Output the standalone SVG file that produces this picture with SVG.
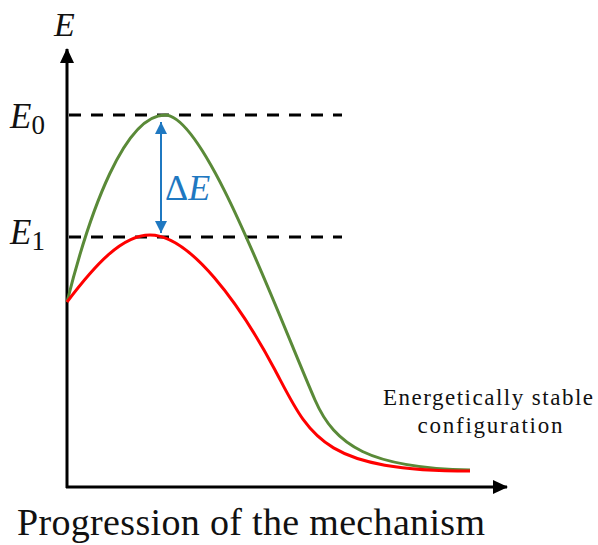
<svg xmlns="http://www.w3.org/2000/svg" width="598" height="545" viewBox="0 0 598 545">
<style>
.axis{stroke:#000;stroke-width:3;fill:none}
.dash{stroke:#000;stroke-width:3;stroke-dasharray:12 10;fill:none}
.green{stroke:#5a8a38;stroke-width:3;fill:none}
.red{stroke:#ff0000;stroke-width:3;fill:none}
.blue{stroke:#1f78c1;stroke-width:2;fill:none}
.math{font-family:"Liberation Serif","DejaVu Serif",serif;font-style:italic}
.lbl{font-family:"Liberation Serif","DejaVu Serif",serif;fill:#111}
</style>
<defs>
<marker id="ak" markerUnits="userSpaceOnUse" markerWidth="16" markerHeight="16" refX="14" refY="8" orient="auto">
<path d="M0,1 L15,8 L0,15 Z" fill="#000"/>
</marker>
<marker id="ab" markerUnits="userSpaceOnUse" markerWidth="14" markerHeight="14" refX="12" refY="7" orient="auto-start-reverse">
<path d="M0,1 L12,7 L0,13 Z" fill="#1f78c1"/>
</marker>
</defs>
<g id="connectors">
<path class="axis" d="M67,488 L67,49" marker-end="url(#ak)"/>
<path class="axis" d="M66,487 L507,487" marker-end="url(#ak)"/>
<path class="dash" d="M69,115 L342,115"/>
<path class="dash" d="M69,237 L342,237"/>
<path class="blue" d="M161,122 L161,233" marker-start="url(#ab)" marker-end="url(#ab)"/>
</g>
<g id="curve-green">
<path class="green" d="M67,302 C90,210 125,115 165,115 C205,115 275,308 315,400 C335,446 370,468 470,470"/>
</g>
<g id="curve-red">
<path class="red" d="M67,302 C95,265 122,235 150,235 C190,235 240,304 275,370 C310,436 320,471 470,471"/>
</g>
<g id="labels">
<text class="math" x="54" y="36" font-size="34" fill="#111">E</text>
<text class="math" x="10" y="128" font-size="35" fill="#111">E<tspan font-style="normal" font-size="27" dy="6">0</tspan></text>
<text class="math" x="10" y="244" font-size="35" fill="#111">E<tspan font-style="normal" font-size="27" dy="6">1</tspan></text>
<text x="165" y="200" font-size="36" fill="#1f78c1" font-family="Liberation Serif,DejaVu Serif,serif">Δ<tspan font-style="italic">E</tspan></text>
<text class="lbl" x="488" y="405" font-size="23" text-anchor="middle" textLength="210">Energetically stable</text>
<text class="lbl" x="490" y="433" font-size="23" text-anchor="middle" textLength="145">configuration</text>
<text class="lbl" x="17" y="535" font-size="38" textLength="468">Progression of the mechanism</text>
</g>
</svg>
